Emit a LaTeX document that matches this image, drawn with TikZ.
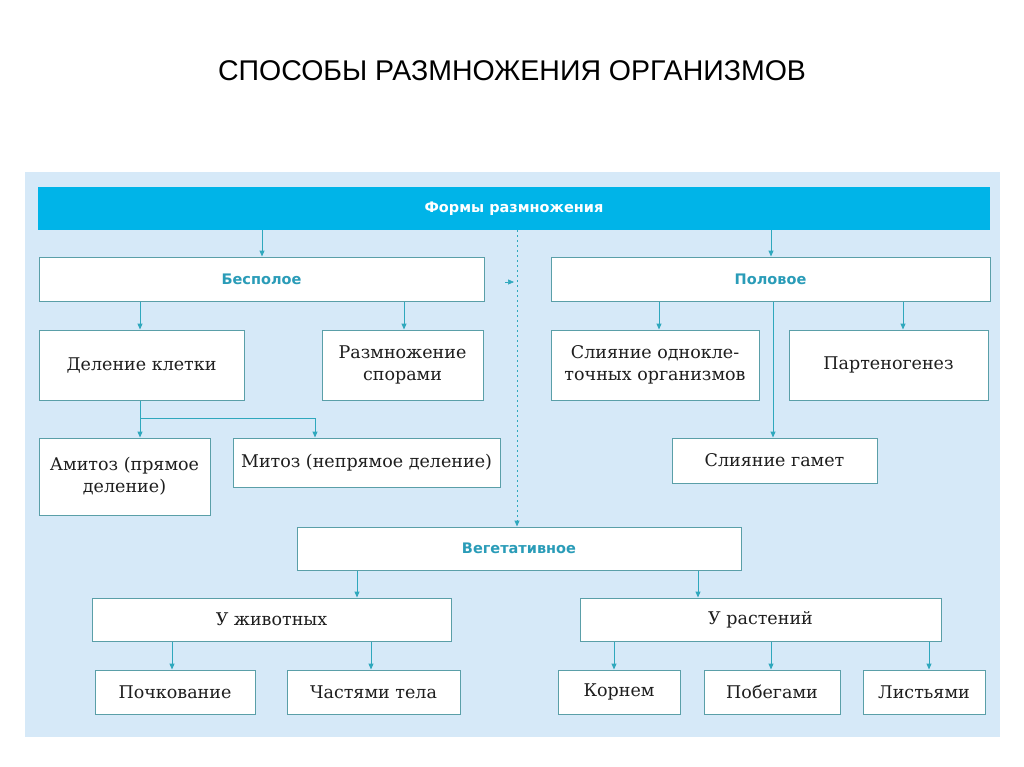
\documentclass[tikz,border=0pt]{standalone}
\usepackage{fontspec}
\setmainfont{DejaVu Serif}
\newfontfamily\titlefont{Liberation Sans}
\newfontfamily\headfont{DejaVu Sans}
\usetikzlibrary{arrows.meta}
\definecolor{panelbg}{HTML}{D6E9F8}
\definecolor{barblue}{HTML}{00B4E8}
\definecolor{boxline}{HTML}{5A9FA8}
\definecolor{arrcol}{HTML}{2FA8BD}
\definecolor{headcol}{HTML}{2A9CB8}
\definecolor{txt}{HTML}{1E1E1E}
\tikzset{
  box/.style={draw=boxline, line width=1pt, fill=white, text=txt, align=center,
    inner sep=2pt, font=\fontsize{17.5}{22}\selectfont},
  headbox/.style={box, text=headcol, font=\headfont\bfseries\fontsize{14.5}{18}\selectfont},
  arr/.style={draw=arrcol, line width=1pt, -{Triangle[length=6pt,width=5pt]}},
  plain/.style={draw=arrcol, line width=1pt},
  dotline/.style={draw=arrcol, line width=1pt, dash pattern=on 2pt off 3pt, -{Triangle[length=6pt,width=5pt]}}
}
\begin{document}
\begin{tikzpicture}[x=1pt,y=-1pt]
\useasboundingbox (0,0) rectangle (1024,767);
\fill[white] (0,0) rectangle (1024,767);
\node[font=\titlefont\fontsize{28.5}{32}\selectfont, text=black] (title) at (512,71) {СПОСОБЫ РАЗМНОЖЕНИЯ ОРГАНИЗМОВ};
\fill[panelbg] (25,172) rectangle (1000,737);
\node[fill=barblue, minimum width=952, minimum height=43, inner sep=0pt, text=white,
  font=\headfont\bfseries\fontsize{14.5}{17}\selectfont] (top) at (514,208.5) {Формы размножения};
% level 1
\node[headbox, minimum width=445, minimum height=44] (bes) at (261.5,279) {Бесполое};
\node[headbox, minimum width=439, minimum height=44] (pol) at (770.5,279) {Половое};
% level 2
\node[box, minimum width=205, minimum height=70] (del) at (141.5,365) {Деление клетки};
\node[box, minimum width=161, minimum height=70] (spor) at (402.5,365) {Размножение\\спорами};
\node[box, minimum width=208, minimum height=70] (odn) at (655,365) {Слияние однокле-\\точных организмов};
\node[box, minimum width=199, minimum height=70] (part) at (888.5,365) {Партеногенез};
% level 3
\node[box, minimum width=171, minimum height=77] (ami) at (124.5,476.5) {Амитоз (прямое\\деление)};
\node[box, minimum width=267, minimum height=49] (mit) at (366.5,462.5) {Митоз (непрямое деление)};
\node[box, minimum width=205, minimum height=45] (gam) at (774.5,460.5) {Слияние гамет};
% vegetative
\node[headbox, minimum width=444, minimum height=43] (veg) at (519,548.5) {Вегетативное};
\node[box, minimum width=359, minimum height=43] (anim) at (271.5,619.5) {У животных};
\node[box, minimum width=361, minimum height=43] (plant) at (760.5,619.5) {У растений};
\node[box, minimum width=160, minimum height=44] (poch) at (175,692) {Почкование};
\node[box, minimum width=173, minimum height=44] (chast) at (373.5,692) {Частями тела};
\node[box, minimum width=122, minimum height=44] (korn) at (619,692) {Корнем};
\node[box, minimum width=136, minimum height=44] (pobeg) at (772,692) {Побегами};
\node[box, minimum width=122, minimum height=44] (list) at (924,692) {Листьями};
% x positions
\coordinate (xa) at (262,0);
\coordinate (xb) at (771,0);
\coordinate (xc) at (140,0);
\coordinate (xd) at (404,0);
\coordinate (xe) at (659,0);
\coordinate (xf) at (903,0);
\coordinate (xg) at (773,0);
\coordinate (xh) at (517,0);
\coordinate (xi) at (357,0);
\coordinate (xj) at (698,0);
\coordinate (xk) at (172,0);
\coordinate (xl) at (371,0);
\coordinate (xm) at (614,0);
\coordinate (xn) at (771,0);
\coordinate (xo) at (929,0);
\coordinate (j1) at (140,418);
\coordinate (j2) at (315,418);
\coordinate (m1) at (505,282);
\coordinate (m2) at (514,282);
% connectors
\draw[arr] (top.south -| xa) -- (bes.north -| xa);
\draw[arr] (top.south -| xb) -- (pol.north -| xb);
\draw[arr] (bes.south -| xc) -- (del.north -| xc);
\draw[arr] (bes.south -| xd) -- (spor.north -| xd);
\draw[arr] (pol.south -| xe) -- (odn.north -| xe);
\draw[arr] (pol.south -| xf) -- (part.north -| xf);
\draw[arr] (pol.south -| xg) -- (gam.north -| xg);
\draw[arr] (del.south -| j1) -- (ami.north -| j1);
\draw[plain] (j1) -- (j2);
\draw[arr] (j2) -- (mit.north -| j2);
\draw[dotline] (top.south -| xh) -- (veg.north -| xh);
\draw[arr, line width=0.6pt] (m1) -- (m2);
\draw[arr] (veg.south -| xi) -- (anim.north -| xi);
\draw[arr] (veg.south -| xj) -- (plant.north -| xj);
\draw[arr] (anim.south -| xk) -- (poch.north -| xk);
\draw[arr] (anim.south -| xl) -- (chast.north -| xl);
\draw[arr] (plant.south -| xm) -- (korn.north -| xm);
\draw[arr] (plant.south -| xn) -- (pobeg.north -| xn);
\draw[arr] (plant.south -| xo) -- (list.north -| xo);
\end{tikzpicture}
\end{document}
